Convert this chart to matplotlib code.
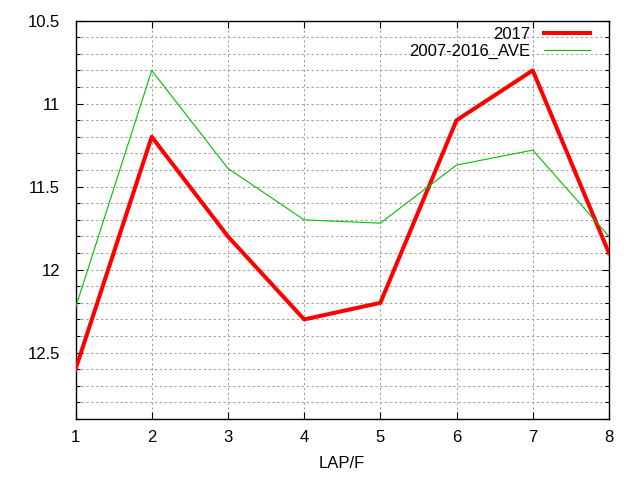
import matplotlib
matplotlib.use("Agg")
import matplotlib.pyplot as plt
from matplotlib.ticker import MultipleLocator, FuncFormatter

plt.rcParams['font.family'] = ['Liberation Sans', 'DejaVu Sans']

laps = [1, 2, 3, 4, 5, 6, 7, 8]
times_2017 = [12.6, 11.2, 11.8, 12.3, 12.2, 11.1, 10.8, 11.9]
times_ave = [12.23, 10.8, 11.39, 11.70, 11.72, 11.37, 11.28, 11.80]

fig = plt.figure(figsize=(6.4, 4.8), dpi=100)
ax = fig.add_axes([0.118, 0.127, 0.8335, 0.830])

ax.plot(laps, times_2017, color="#ff0000", lw=2.9, label="2017", zorder=3)
ax.plot(laps, times_ave, color="#00c000", lw=0.8, label="2007-2016_AVE", zorder=3)

ax.set_xlim(1, 8)
ax.set_ylim(12.9, 10.5)
ax.xaxis.set_major_locator(MultipleLocator(1))
ax.yaxis.set_major_locator(MultipleLocator(0.5))
ax.yaxis.set_minor_locator(MultipleLocator(0.1))
ax.yaxis.set_major_formatter(FuncFormatter(lambda v, p: "%g" % v))

grid_style = dict(color="#a0a0a0", linestyle=(0, (2.2, 2.5)), linewidth=0.75)
ax.grid(True, which="major", axis="both", **grid_style)
ax.grid(True, which="minor", axis="y", **grid_style)
ax.set_axisbelow(True)

ax.tick_params(which="both", direction="in", top=True, right=True,
               labelsize=12, colors="black")
ax.tick_params(which="major", length=5, width=0.8)
ax.tick_params(which="minor", length=3, width=0.8)
ax.tick_params(axis="y", pad=11)
ax.tick_params(axis="x", pad=8)
for s in ax.spines.values():
    s.set_linewidth(1.0)

ax.set_xlabel("LAP/F", fontsize=12, labelpad=8)

ax.legend(loc="upper right", bbox_to_anchor=(0.981, 1.005), frameon=False,
          markerfirst=False, fontsize=12, handlelength=2.8,
          handletextpad=0.8, labelspacing=0.12, borderaxespad=0.1)

fig.savefig("out.png", dpi=100)
